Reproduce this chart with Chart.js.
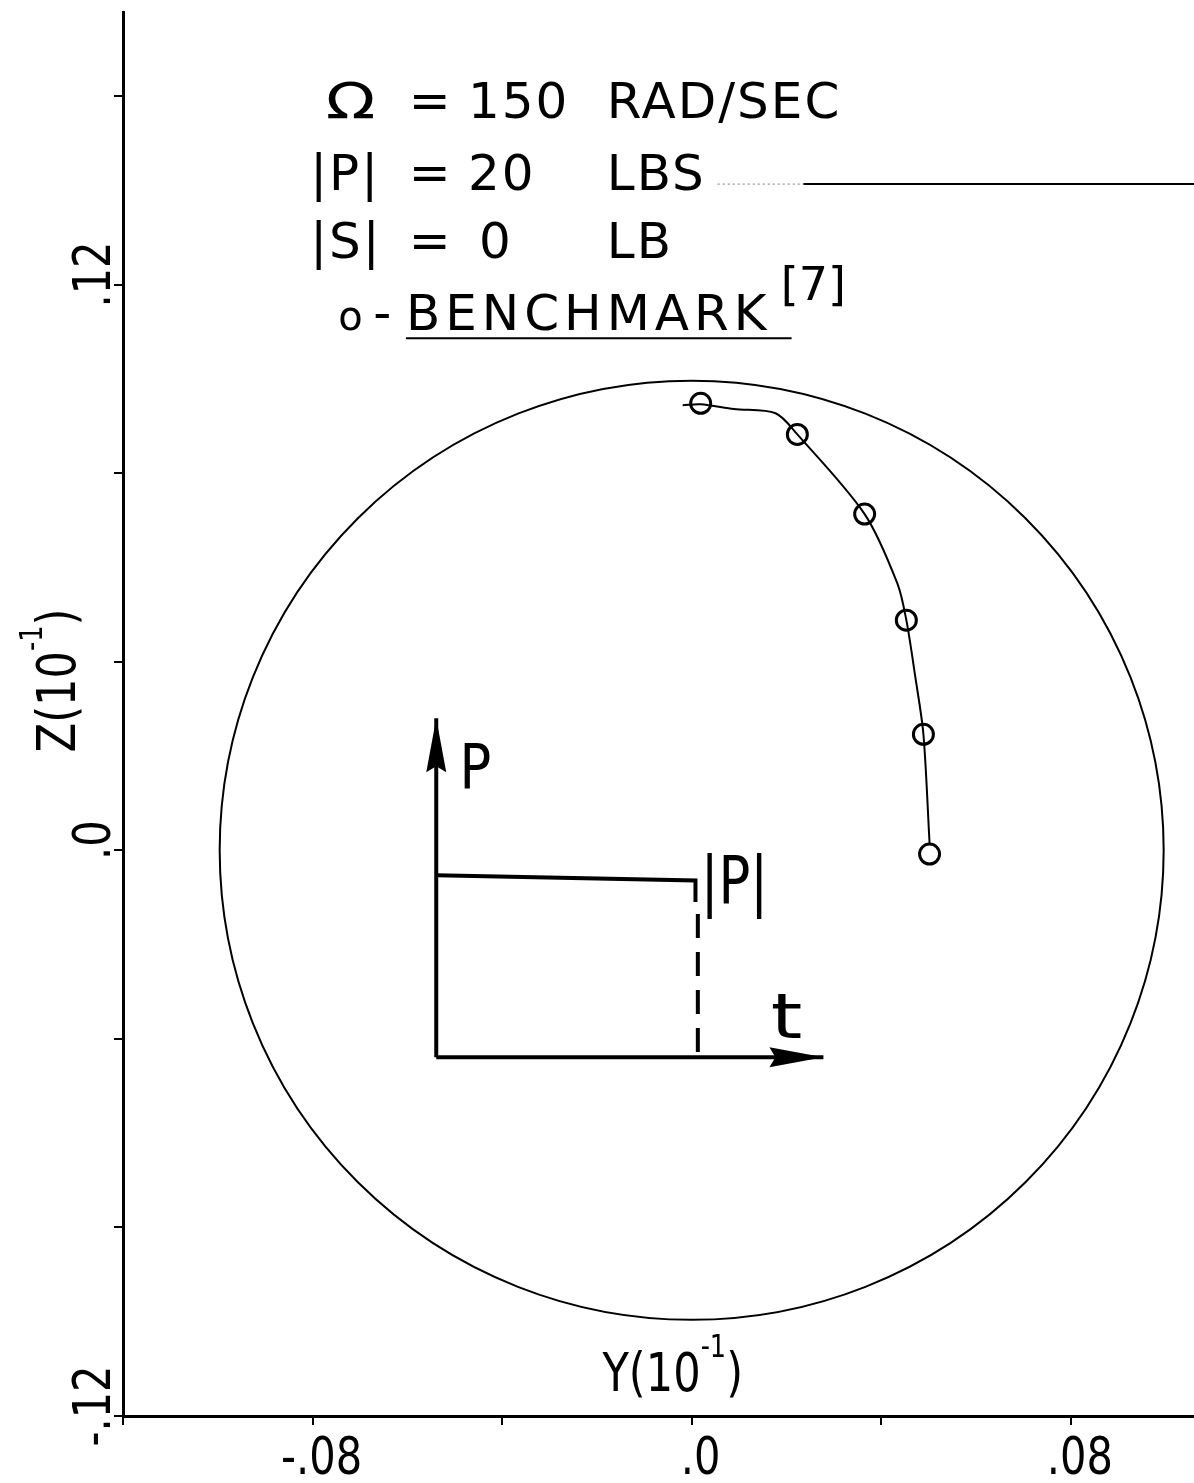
<!DOCTYPE html>
<html>
<head>
<meta charset="utf-8">
<title>Whirl orbit, step load</title>
<script src="https://cdn.jsdelivr.net/npm/chart.js@4.4.1/dist/chart.umd.min.js"></script>
<style>
  html, body { margin: 0; padding: 0; background: #fff; }
  #orbit { display: block; }
</style>
</head>
<body>
<canvas id="orbit" width="1194" height="1483"></canvas>
<script>
"use strict";

// computed path, Y and Z in units of 10^-1
const pathY = [-0.0019, 0.0019, 0.0089, 0.0177, 0.0223, 0.0365, 0.0434, 0.0453, 0.0472, 0.0489, 0.0502];
const pathZ = [0.0944, 0.0946, 0.0936, 0.0927, 0.0882, 0.0713, 0.0566, 0.0488, 0.0367, 0.0246, 0.0015];

// benchmark points [7]
const benchY = [0.0019, 0.0223, 0.0365, 0.0453, 0.0489, 0.0502];
const benchZ = [0.0948, 0.0882, 0.0713, 0.0488, 0.0246, -0.0008];

// clearance circle
const circleCenter = [0, 0];
const circleRadius = 0.0996;

// axes
const yRange = [-0.12, 0.106];
const zRange = [-0.12, 0.1778];
const tickStep = 0.04;
const yTickValues = [-0.08, 0, 0.08];
const yTickLabels = ['-.08', '.0', '.08'];
const zTickValues = [-0.12, 0, 0.12];
const zTickLabels = ['-.12', '.0', '.12'];

// load history sketch (P against t)
const pAxisY = [-0.0539, -0.0539];
const pAxisZ = [-0.0439, 0.0280];
const tAxisY = [-0.0539, 0.0278];
const tAxisZ = [-0.0439, -0.0439];
const stepY = [-0.0539, 0.0008, 0.0008];
const stepZ = [-0.0053, -0.0064, -0.0110];
const cutY = [0.0013, 0.0013];
const cutZ = [-0.0135, -0.0439];

// rule at top right
const ruleY = [0.0236, 0.106];
const ruleZ = [0.1413, 0.1413];
const ruleDotY = [0.0055, 0.0236];
const ruleDotZ = [0.1413, 0.1413];

const FONT = '"DejaVu Sans", "Liberation Sans", sans-serif';

function pts(xs, ys) {
    return xs.map((x, i) => ({x: x, y: ys[i]}));
}

function lineSet(xs, ys, width, extra) {
    return Object.assign({
        data: pts(xs, ys),
        showLine: true,
        borderColor: '#000',
        borderWidth: width,
        pointRadius: 0,
        fill: false,
        tension: 0
    }, extra || {});
}

// draws a row of text pieces; each piece is [text, sizeFactor, raise]
function putText(ctx, parts, x, y, o) {
    ctx.save();
    ctx.translate(x, y);
    if (o.rotate) ctx.rotate(o.rotate);
    ctx.scale(o.squeeze || 1, 1);
    ctx.fillStyle = '#000';
    ctx.textBaseline = 'alphabetic';
    ctx.textAlign = 'left';
    ctx.letterSpacing = (o.spacing || 0) + 'px';
    const widths = parts.map(p => {
        ctx.font = Math.round(o.size * (p[1] || 1)) + 'px ' + FONT;
        return ctx.measureText(p[0]).width;
    });
    const total = widths.reduce((a, b) => a + b, 0);
    let cx = o.align === 'center' ? -total / 2 : 0;
    parts.forEach((p, i) => {
        ctx.font = Math.round(o.size * (p[1] || 1)) + 'px ' + FONT;
        ctx.fillText(p[0], cx, -(p[2] || 0) * o.size);
        cx += widths[i];
    });
    ctx.restore();
    return total * (o.squeeze || 1);
}

const circlePlugin = {
    id: 'clearanceCircle',
    beforeDatasetsDraw(chart) {
        const {ctx, scales: {x, y}} = chart;
        const cx = x.getPixelForValue(circleCenter[0]);
        const cy = y.getPixelForValue(circleCenter[1]);
        const rx = Math.abs(x.getPixelForValue(circleCenter[0] + circleRadius) - cx);
        const ry = Math.abs(y.getPixelForValue(circleCenter[1] + circleRadius) - cy);
        ctx.save();
        ctx.strokeStyle = '#000';
        ctx.lineWidth = 2;
        ctx.beginPath();
        ctx.ellipse(cx, cy, rx, ry, 0, 0, Math.PI * 2);
        ctx.stroke();
        ctx.restore();
    }
};

// filled arrow heads on the last point of datasets flagged with arrowHead
const arrowPlugin = {
    id: 'arrowHeads',
    afterDatasetsDraw(chart) {
        const ctx = chart.ctx;
        chart.data.datasets.forEach((ds, i) => {
            if (!ds.arrowHead) return;
            const el = chart.getDatasetMeta(i).data;
            const a = el[el.length - 2], b = el[el.length - 1];
            const ang = Math.atan2(b.y - a.y, b.x - a.x);
            const len = 54, half = 10;
            ctx.save();
            ctx.translate(b.x, b.y);
            ctx.rotate(ang);
            ctx.fillStyle = '#000';
            ctx.beginPath();
            ctx.moveTo(0, 0);
            ctx.lineTo(-len, -half);
            ctx.lineTo(-len + 6, 0);
            ctx.lineTo(-len, half);
            ctx.closePath();
            ctx.fill();
            ctx.restore();
        });
    }
};

const labelPlugin = {
    id: 'labels',
    afterDraw(chart) {
        const {ctx, chartArea, scales: {x, y}} = chart;
        const px = v => x.getPixelForValue(v);
        const py = v => y.getPixelForValue(v);

        // tick labels
        zTickValues.forEach((v, i) => {
            putText(ctx, [[zTickLabels[i]]], chartArea.left - 13, py(v) - 10,
                {size: 52, squeeze: 0.8, rotate: -Math.PI / 2, align: 'center'});
        });
        yTickValues.forEach((v, i) => {
            putText(ctx, [[yTickLabels[i]]], px(v) + 9, chartArea.bottom + 58,
                {size: 52, squeeze: 0.8, align: 'center'});
        });

        // axis titles
        putText(ctx, [['Z(10'], ['-1', 0.6, 0.62], [')']], chartArea.left - 48, py(0.036),
            {size: 54, squeeze: 0.8, rotate: -Math.PI / 2, align: 'center'});
        putText(ctx, [['Y(10'], ['-1', 0.6, 0.62], [')']], px(-0.004), py(-0.1146),
            {size: 54, squeeze: 0.8, align: 'center'});

        // parameter notes
        const rows = [
            [0.1553, [[-0.0597, '='], [-0.0472, '150'], [-0.0179, 'RAD/SEC']]],
            [0.1400, [[-0.0805, '|P|'], [-0.0597, '='], [-0.0472, '20'], [-0.0179, 'LBS']]],
            [0.1256, [[-0.0805, '|S|'], [-0.0597, '='], [-0.0449, '0'], [-0.0179, 'LB']]]
        ];
        rows.forEach(([z, cells]) => {
            cells.forEach(([yv, s]) => putText(ctx, [[s]], px(yv), py(z), {size: 50, spacing: 2}));
        });
        putText(ctx, [['Ω']], px(-0.0772), py(0.1553), {size: 50, squeeze: 1.3});
        putText(ctx, [['o']], px(-0.0746), py(0.1103), {size: 40});
        putText(ctx, [['-']], px(-0.0672), py(0.1103), {size: 50});
        const bx = px(-0.0603);
        const bw = putText(ctx, [['BENCHMARK']], bx, py(0.1103), {size: 50, spacing: 5});
        putText(ctx, [['[7]']], px(0.0188), py(0.1167), {size: 46});
        ctx.save();
        ctx.strokeStyle = '#000';
        ctx.lineWidth = 2;
        ctx.beginPath();
        ctx.moveTo(bx, py(0.1103) + 8);
        ctx.lineTo(bx + bw + 20, py(0.1103) + 8);
        ctx.stroke();
        ctx.restore();

        // sketch labels
        putText(ctx, [['P']], px(-0.0490), py(0.0132), {size: 62, squeeze: 0.85});
        putText(ctx, [['|P|']], px(0.0019), py(-0.0112), {size: 66, squeeze: 0.8});
        putText(ctx, [['t']], px(0.0167), py(-0.0399), {size: 62, squeeze: 1.3});
    }
};

const axisStyle = {
    border: {display: true, color: '#000', width: 3},
    grid: {display: true, drawOnChartArea: false, drawTicks: true, tickLength: 9, color: '#000', lineWidth: 2},
    ticks: {display: false, stepSize: tickStep, includeBounds: false}
};

new Chart(document.getElementById('orbit'), {
    type: 'scatter',
    data: {
        datasets: [
            lineSet(pathY, pathZ, 2, {tension: 0.3}),
            {
                data: pts(benchY, benchZ),
                showLine: false,
                pointStyle: 'circle',
                pointRadius: 10,
                pointBorderWidth: 3,
                pointBorderColor: '#000',
                pointBackgroundColor: 'rgba(0,0,0,0)'
            },
            lineSet(pAxisY, pAxisZ, 4, {arrowHead: true}),
            lineSet(tAxisY, tAxisZ, 4, {arrowHead: true}),
            lineSet(stepY, stepZ, 4),
            lineSet(cutY, cutZ, 4, {borderDash: [24, 14]}),
            lineSet(ruleY, ruleZ, 2),
            lineSet(ruleDotY, ruleDotZ, 1, {borderDash: [2, 3], borderColor: '#777'})
        ]
    },
    options: {
        responsive: false,
        animation: false,
        devicePixelRatio: 1,
        layout: {autoPadding: false, padding: {top: 12, left: 0, right: 0, bottom: 0}},
        plugins: {
            legend: {display: false},
            tooltip: {enabled: false}
        },
        scales: {
            x: Object.assign({
                type: 'linear',
                min: yRange[0],
                max: yRange[1],
                afterFit: s => { s.height = 67; }
            }, axisStyle),
            y: Object.assign({
                type: 'linear',
                min: zRange[0],
                max: zRange[1],
                afterFit: s => { s.width = 123; }
            }, axisStyle)
        }
    },
    plugins: [circlePlugin, arrowPlugin, labelPlugin]
});
</script>
</body>
</html>
